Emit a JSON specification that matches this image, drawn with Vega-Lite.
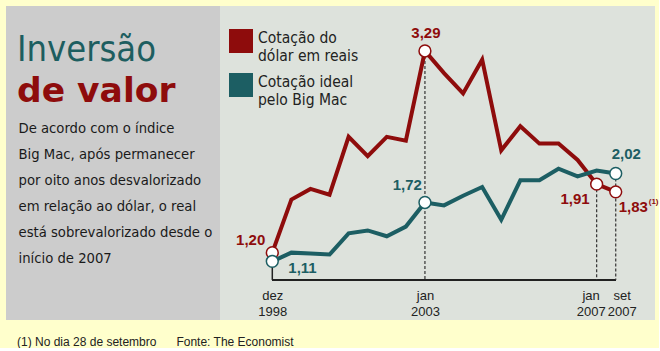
{
  "$schema": "https://vega.github.io/schema/vega-lite/v6.json",
  "background": "#FFFFCC",
  "padding": {"left": 6, "top": 6, "right": 0, "bottom": 0},
  "spacing": 0,
  "bounds": "flush",
  "config": {
    "view": {"stroke": null},
    "locale": {"number": {"decimal": ",", "thousands": ".", "grouping": [3], "currency": ["R$", ""]}}
  },
  "title": {
    "text": "(1) No dia 28 de setembro\u00a0\u00a0\u00a0\u00a0\u00a0 Fonte: The Economist",
    "orient": "bottom",
    "anchor": "start",
    "offset": 17,
    "dx": 11,
    "font": "Liberation Sans",
    "fontSize": 12,
    "fontWeight": "normal",
    "color": "#222222"
  },
  "resolve": {"scale": {"color": "independent"}, "legend": {"color": "independent"}},
  "datasets": {
    "texto": [
      {"linha": 1, "texto": "De acordo com o índice"},
      {"linha": 2, "texto": "Big Mac, após permanecer"},
      {"linha": 3, "texto": "por oito anos desvalorizado"},
      {"linha": 4, "texto": "em relação ao dólar, o real"},
      {"linha": 5, "texto": "está sobrevalorizado desde o"},
      {"linha": 6, "texto": "início de 2007"}
    ],
    "cotacoes": [
      {"i": 0, "serie": "Cotação do dólar em reais", "valor": 1.20},
      {"i": 1, "serie": "Cotação do dólar em reais", "valor": 1.75},
      {"i": 2, "serie": "Cotação do dólar em reais", "valor": 1.86},
      {"i": 3, "serie": "Cotação do dólar em reais", "valor": 1.80},
      {"i": 4, "serie": "Cotação do dólar em reais", "valor": 2.40},
      {"i": 5, "serie": "Cotação do dólar em reais", "valor": 2.20},
      {"i": 6, "serie": "Cotação do dólar em reais", "valor": 2.40},
      {"i": 7, "serie": "Cotação do dólar em reais", "valor": 2.36},
      {"i": 8, "serie": "Cotação do dólar em reais", "valor": 3.29},
      {"i": 9, "serie": "Cotação do dólar em reais", "valor": 3.06},
      {"i": 10, "serie": "Cotação do dólar em reais", "valor": 2.85},
      {"i": 11, "serie": "Cotação do dólar em reais", "valor": 3.20},
      {"i": 12, "serie": "Cotação do dólar em reais", "valor": 2.26},
      {"i": 13, "serie": "Cotação do dólar em reais", "valor": 2.51},
      {"i": 14, "serie": "Cotação do dólar em reais", "valor": 2.33},
      {"i": 15, "serie": "Cotação do dólar em reais", "valor": 2.33},
      {"i": 16, "serie": "Cotação do dólar em reais", "valor": 2.16},
      {"i": 17, "serie": "Cotação do dólar em reais", "valor": 1.91},
      {"i": 18, "serie": "Cotação do dólar em reais", "valor": 1.83},
      {"i": 0, "serie": "Cotação ideal pelo Big Mac", "valor": 1.11},
      {"i": 1, "serie": "Cotação ideal pelo Big Mac", "valor": 1.20},
      {"i": 2, "serie": "Cotação ideal pelo Big Mac", "valor": 1.19},
      {"i": 3, "serie": "Cotação ideal pelo Big Mac", "valor": 1.18},
      {"i": 4, "serie": "Cotação ideal pelo Big Mac", "valor": 1.40},
      {"i": 5, "serie": "Cotação ideal pelo Big Mac", "valor": 1.43},
      {"i": 6, "serie": "Cotação ideal pelo Big Mac", "valor": 1.37},
      {"i": 7, "serie": "Cotação ideal pelo Big Mac", "valor": 1.47},
      {"i": 8, "serie": "Cotação ideal pelo Big Mac", "valor": 1.72},
      {"i": 9, "serie": "Cotação ideal pelo Big Mac", "valor": 1.69},
      {"i": 10, "serie": "Cotação ideal pelo Big Mac", "valor": 1.79},
      {"i": 11, "serie": "Cotação ideal pelo Big Mac", "valor": 1.88},
      {"i": 12, "serie": "Cotação ideal pelo Big Mac", "valor": 1.54},
      {"i": 13, "serie": "Cotação ideal pelo Big Mac", "valor": 1.95},
      {"i": 14, "serie": "Cotação ideal pelo Big Mac", "valor": 1.95},
      {"i": 15, "serie": "Cotação ideal pelo Big Mac", "valor": 2.07},
      {"i": 16, "serie": "Cotação ideal pelo Big Mac", "valor": 1.99},
      {"i": 17, "serie": "Cotação ideal pelo Big Mac", "valor": 2.05},
      {"i": 18, "serie": "Cotação ideal pelo Big Mac", "valor": 2.02}
    ]
  },
  "hconcat": [
    {
      "width": 214,
      "height": 314,
      "view": {"fill": "#CCCCCC", "stroke": null},
      "title": {
        "text": "Inversão",
        "subtitle": "de valor",
        "anchor": "start",
        "orient": "top",
        "frame": "group",
        "offset": -103,
        "dx": 11,
        "font": "DejaVu Sans Condensed",
        "fontSize": 36,
        "fontWeight": "normal",
        "color": "#1D5E60",
        "subtitleFont": "DejaVu Sans",
        "subtitleFontSize": 34.5,
        "subtitleFontWeight": "bold",
        "subtitleColor": "#8E0C0C",
        "subtitlePadding": 6
      },
      "data": {"name": "texto"},
      "mark": {
        "type": "text",
        "align": "left",
        "baseline": "alphabetic",
        "font": "DejaVu Sans Condensed",
        "fontSize": 14.7,
        "color": "#1A1A1A",
        "dx": 12.5
      },
      "encoding": {
        "x": {"datum": 0, "type": "quantitative", "scale": {"domain": [0, 1]}, "axis": null},
        "y": {"field": "linha", "type": "quantitative", "scale": {"domain": [-3.896, 8.181], "reverse": true, "nice": false, "zero": false}, "axis": null},
        "text": {"field": "texto"}
      }
    },
    {
      "width": 435,
      "height": 314,
      "view": {"fill": "#DDE2DC", "stroke": null},
      "data": {"name": "cotacoes"},
      "encoding": {
        "x": {
          "field": "i",
          "type": "quantitative",
          "scale": {"domain": [-2.741, 20.058], "nice": false, "zero": false},
          "axis": {
            "title": null,
            "values": [0, 8, 17, 18],
            "labelExpr": "datum.value == 0 ? ['dez', '1998'] : datum.value == 8 ? ['jan', '2003'] : datum.value == 17 ? ['jan', '2007'] : ['set', '2007']",
            "offset": -40,
            "domain": false,
            "ticks": false,
            "grid": false,
            "labelFont": "Liberation Sans",
            "labelFontSize": 13,
            "labelLineHeight": 16,
            "labelColor": "#222222",
            "labelPadding": 9,
            "labelOverlap": false,
            "labelBound": false,
            "labelFlush": false,
            "labelOffset": {"expr": "datum.value == 17 ? -6 : datum.value == 18 ? 6 : 0"}
          }
        },
        "y": {
          "field": "valor",
          "type": "quantitative",
          "scale": {"domain": [0.502, 3.756], "nice": false, "zero": false},
          "axis": null
        },
        "color": {
          "field": "serie",
          "type": "nominal",
          "scale": {"domain": ["Cotação do dólar em reais", "Cotação ideal pelo Big Mac"], "range": ["#8E0C0C", "#1C5E63"]},
          "legend": null
        }
      },
      "layer": [
        {
          "mark": {"type": "rule", "color": "#222222", "strokeWidth": 1.5},
          "encoding": {
            "x": {"datum": 0},
            "x2": {"datum": 18},
            "y": {"datum": 0.917, "axis": null},
            "color": {"value": "#222222"}
          }
        },
        {
          "transform": [{"filter": "datum.i == 0 && datum.serie == 'Cotação ideal pelo Big Mac'"}],
          "mark": {"type": "rule", "strokeWidth": 1.5},
          "encoding": {
            "y2": {"datum": 0.917},
            "color": {"value": "#222222"}
          }
        },
        {
          "transform": [{"filter": "(datum.i == 8 && datum.serie == 'Cotação do dólar em reais') || (datum.i == 17 && datum.serie == 'Cotação do dólar em reais') || (datum.i == 18 && datum.serie == 'Cotação ideal pelo Big Mac')"}],
          "mark": {"type": "rule", "strokeWidth": 1.2, "strokeDash": [3, 2]},
          "encoding": {
            "y2": {"datum": 0.917},
            "color": {"value": "#333333"}
          }
        },
        {
          "mark": {"type": "line", "strokeWidth": 4, "strokeJoin": "miter"},
          "encoding": {
            "color": {
              "field": "serie",
              "type": "nominal",
              "legend": {
                "orient": "none",
                "legendX": 9,
                "legendY": 23,
                "title": null,
                "padding": 0,
                "symbolType": "square",
                "symbolSize": 576,
                "symbolStrokeWidth": 0,
                "labelFont": "DejaVu Sans Condensed",
                "labelFontSize": 15.5,
                "labelLineHeight": 18,
                "labelColor": "#222222",
                "labelOffset": 5,
                "labelLimit": 0,
                "rowPadding": 9,
                "labelExpr": "datum.label == 'Cotação do dólar em reais' ? ['Cotação do', 'dólar em reais'] : ['Cotação ideal', 'pelo Big Mac']",
                "encode": {
                  "symbols": {"update": {"fill": {"scale": "color", "field": "value"}, "fillOpacity": {"value": 1}}},
                  "labels": {"update": {"dy": {"value": -3}}}
                }
              }
            }
          }
        },
        {
          "transform": [{"filter": "datum.i == 0 || datum.i == 8 || datum.i == 18 || (datum.i == 17 && datum.serie == 'Cotação do dólar em reais')"}],
          "mark": {"type": "circle", "filled": false, "fill": "white", "fillOpacity": 1, "size": 140, "strokeWidth": 1.5, "opacity": 1}
        },
        {
          "transform": [{"filter": "datum.i == 8 && datum.serie == 'Cotação do dólar em reais'"}],
          "mark": {"type": "text", "align": "center", "baseline": "middle", "dx": 1, "dy": -18, "font": "Liberation Sans", "fontSize": 15, "fontWeight": "bold"},
          "encoding": {"text": {"field": "valor", "type": "quantitative", "format": ".2f"}}
        },
        {
          "transform": [{"filter": "datum.i == 0 && datum.serie == 'Cotação do dólar em reais'"}],
          "mark": {"type": "text", "align": "right", "baseline": "middle", "dx": -7, "dy": -13, "font": "Liberation Sans", "fontSize": 15, "fontWeight": "bold"},
          "encoding": {"text": {"field": "valor", "type": "quantitative", "format": ".2f"}}
        },
        {
          "transform": [{"filter": "datum.i == 0 && datum.serie == 'Cotação ideal pelo Big Mac'"}],
          "mark": {"type": "text", "align": "left", "baseline": "middle", "dx": 16, "dy": 7, "font": "Liberation Sans", "fontSize": 15, "fontWeight": "bold"},
          "encoding": {"text": {"field": "valor", "type": "quantitative", "format": ".2f"}}
        },
        {
          "transform": [{"filter": "datum.i == 8 && datum.serie == 'Cotação ideal pelo Big Mac'"}],
          "mark": {"type": "text", "align": "right", "baseline": "middle", "dx": -3, "dy": -17, "font": "Liberation Sans", "fontSize": 15, "fontWeight": "bold"},
          "encoding": {"text": {"field": "valor", "type": "quantitative", "format": ".2f"}}
        },
        {
          "transform": [{"filter": "datum.i == 17 && datum.serie == 'Cotação do dólar em reais'"}],
          "mark": {"type": "text", "align": "right", "baseline": "middle", "dx": -7, "dy": 15, "font": "Liberation Sans", "fontSize": 15, "fontWeight": "bold"},
          "encoding": {"text": {"field": "valor", "type": "quantitative", "format": ".2f"}}
        },
        {
          "transform": [{"filter": "datum.i == 18 && datum.serie == 'Cotação do dólar em reais'"}],
          "mark": {"type": "text", "align": "left", "baseline": "middle", "dx": 3, "dy": 15, "font": "Liberation Sans", "fontSize": 15, "fontWeight": "bold"},
          "encoding": {"text": {"field": "valor", "type": "quantitative", "format": ".2f"}}
        },
        {
          "transform": [{"filter": "datum.i == 18 && datum.serie == 'Cotação do dólar em reais'"}],
          "mark": {"type": "text", "align": "left", "baseline": "middle", "dx": 33, "dy": 10, "text": "(1)", "font": "Liberation Sans", "fontSize": 8, "fontWeight": "bold"}
        },
        {
          "transform": [{"filter": "datum.i == 18 && datum.serie == 'Cotação ideal pelo Big Mac'"}],
          "mark": {"type": "text", "align": "left", "baseline": "middle", "dx": -4, "dy": -20, "font": "Liberation Sans", "fontSize": 15, "fontWeight": "bold"},
          "encoding": {"text": {"field": "valor", "type": "quantitative", "format": ".2f"}}
        }
      ]
    }
  ]
}
